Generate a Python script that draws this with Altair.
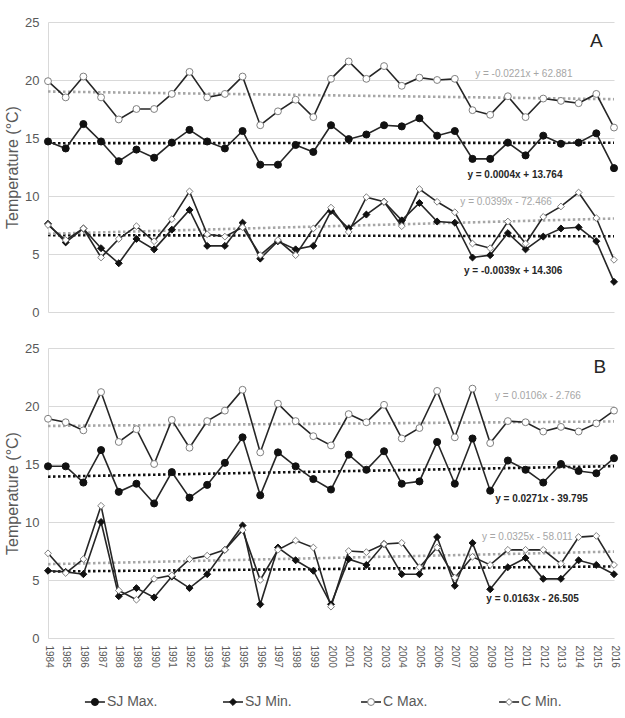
import altair as alt
import pandas as pd

YEARS = list(range(1984, 2017))
SERIES = ["SJ Max.", "SJ Min.", "C Max.", "C Min."]

# Panel A
A_SJ_MAX = [14.7, 14.1, 16.2, 14.7, 13.0, 14.0, 13.3, 14.6, 15.7, 14.7, 14.1, 15.6, 12.7, 12.7, 14.4, 13.8,
            16.1, 14.9, 15.3, 16.1, 16.0, 16.7, 15.2, 15.6, 13.2, 13.2, 14.6, 13.5, 15.2, 14.5, 14.6, 15.4, 12.4]
A_SJ_MIN = [7.6, 6.0, 7.2, 5.5, 4.2, 6.3, 5.4, 7.1, 8.8, 5.7, 5.7, 7.7, 4.6, 6.1, 5.4, 5.7,
            8.7, 7.2, 8.4, 9.5, 7.9, 9.4, 7.8, 7.7, 4.7, 4.9, 6.8, 5.4, 6.5, 7.2, 7.3, 6.1, 2.6]
A_C_MAX = [19.9, 18.5, 20.3, 18.5, 16.6, 17.5, 17.5, 18.8, 20.7, 18.5, 18.8, 20.3, 16.1, 17.3, 18.3, 16.8,
           20.1, 21.6, 20.1, 21.2, 19.5, 20.2, 20.0, 20.1, 17.4, 17.0, 18.6, 16.8, 18.4, 18.2, 18.0, 18.8, 15.9]
A_C_MIN = [7.5, 6.2, 7.2, 4.7, 6.3, 7.4, 6.1, 8.0, 10.4, 6.7, 6.5, 7.3, 4.9, 6.2, 4.9, 7.2,
           9.0, 6.9, 9.9, 9.5, 7.4, 10.6, 9.5, 8.6, 5.9, 5.5, 7.8, 5.9, 8.2, 9.1, 10.3, 8.1, 4.5]

# Panel B
B_SJ_MAX = [14.8, 14.8, 13.4, 16.2, 12.6, 13.3, 11.6, 14.3, 12.1, 13.2, 15.1, 17.3, 12.3, 16.0, 14.8, 13.7,
            12.8, 15.8, 14.5, 16.1, 13.3, 13.5, 16.9, 13.3, 17.2, 12.7, 15.3, 14.5, 13.4, 15.0, 14.4, 14.2, 15.5]
B_SJ_MIN = [5.8, 5.7, 5.5, 10.0, 3.6, 4.3, 3.5, 5.3, 4.3, 5.5, 7.6, 9.7, 2.9, 7.8, 6.7, 5.8,
            2.9, 6.8, 6.3, 8.1, 5.5, 5.5, 8.7, 4.5, 8.2, 4.2, 6.1, 6.9, 5.1, 5.1, 6.7, 6.3, 5.5]
B_C_MAX = [18.9, 18.6, 17.9, 21.2, 16.9, 18.0, 15.0, 18.8, 16.4, 18.7, 19.6, 21.4, 16.0, 20.2, 18.7, 17.4,
           16.6, 19.3, 18.6, 20.1, 17.2, 18.1, 21.3, 17.3, 21.5, 16.8, 18.7, 18.6, 17.8, 18.2, 17.8, 18.5, 19.6]
B_C_MIN = [7.3, 5.6, 6.8, 11.4, 4.1, 3.3, 5.1, 5.4, 6.8, 7.1, 7.6, 9.3, 5.0, 7.6, 8.4, 7.8,
           2.7, 7.5, 7.4, 8.1, 8.2, 6.1, 7.8, 5.2, 7.0, 6.3, 7.6, 7.6, 7.6, 6.4, 8.7, 8.8, 6.3]

# Trend equation labels (text and where they sit, in data units)
EQ_PANEL = ["A", "A", "A", "A", "B", "B", "B", "B"]
EQ_KIND = ["C", "SJ", "C", "SJ", "C", "SJ", "C", "SJ"]
EQ_TEXT = ["y = -0.0221x + 62.881", "y = 0.0004x + 13.764", "y = 0.0399x - 72.466", "y = -0.0039x + 14.306",
           "y = 0.0106x - 2.766", "y = 0.0271x - 39.795", "y = 0.0325x - 58.011", "y = 0.0163x - 26.505"]
EQ_YEAR = [2010.9, 2010.4, 2009.9, 2010.3, 2011.7, 2011.9, 2011.1, 2011.4]
EQ_VALUE = [20.5, 11.85, 9.45, 3.5, 20.85, 12.0, 8.75, 3.35]

PANEL_LABELS = ["A", "B"]
PANEL_LABEL_YEAR = [2015.0, 2015.2]
PANEL_LABEL_VALUE = [23.4, 23.4]

rows = []
for panel, arrs in (("A", [A_SJ_MAX, A_SJ_MIN, A_C_MAX, A_C_MIN]),
                    ("B", [B_SJ_MAX, B_SJ_MIN, B_C_MAX, B_C_MIN])):
    for s, arr in zip(SERIES, arrs):
        for yr, v in zip(YEARS, arr):
            rows.append({"panel": panel, "series": s, "year": yr, "value": v})
df = pd.DataFrame(rows)

eq_df = pd.DataFrame({"panel": EQ_PANEL, "kind": EQ_KIND, "text": EQ_TEXT,
                      "year": EQ_YEAR, "value": EQ_VALUE})
lab_df = pd.DataFrame({"panel": PANEL_LABELS, "text": PANEL_LABELS,
                       "year": PANEL_LABEL_YEAR, "value": PANEL_LABEL_VALUE})
leg_df = pd.DataFrame({"series": SERIES})

FONT = "Liberation Sans"
GRAY_TXT = "#595959"
GRID = "#d9d9d9"

shape_enc = alt.Shape("series:N", scale=alt.Scale(domain=SERIES, range=["circle", "diamond", "circle", "diamond"]), legend=None)
fill_enc = alt.Fill("series:N", scale=alt.Scale(domain=SERIES, range=["#111111", "#111111", "#ffffff", "#ffffff"]), legend=None)
stroke_enc = alt.Stroke("series:N", scale=alt.Scale(domain=SERIES, range=["#111111", "#111111", "#7f7f7f", "#7f7f7f"]), legend=None)
size_enc = alt.Size("series:N", scale=alt.Scale(domain=SERIES, range=[50, 46, 44, 40]), legend=None)


def panel(p, show_x):
    if show_x:
        xaxis = alt.Axis(values=YEARS, format="d", labelAngle=90, labelFontSize=10, labelColor=GRAY_TXT,
                         labelFont=FONT, domain=False, ticks=False, grid=False, title=None,
                         labelPadding=7, labelOverlap=False, labelBaseline="middle", labelAlign="left")
    else:
        xaxis = None
    x = alt.X("year:Q", scale=alt.Scale(domain=[1984, 2016], nice=False, zero=False), axis=xaxis)
    y = alt.Y("value:Q", scale=alt.Scale(domain=[0, 25], nice=False),
              axis=alt.Axis(values=[0, 5, 10, 15, 20, 25], title="Temperature (°C)", titleFontSize=16,
                            titleFontWeight="normal", titleColor=GRAY_TXT, titleFont=FONT,
                            labelFontSize=13, labelColor=GRAY_TXT, labelFont=FONT, labelPadding=9,
                            ticks=False, domain=True, domainColor=GRID, gridColor=GRID, titlePadding=4))
    d = df[df.panel == p]
    base = alt.Chart(d)
    trend = base.transform_regression("year", "value", groupby=["series"]).mark_line(
        strokeDash=[2.5, 2.5], strokeWidth=2.6).encode(
        x=x, y=y, detail="series:N",
        color=alt.Color("series:N", scale=alt.Scale(domain=SERIES, range=["#111111", "#111111", "#a6a6a6", "#a6a6a6"]), legend=None))
    lines = base.mark_line(color="#262626", strokeWidth=1.6).encode(x=x, y=y, detail="series:N")
    pts = base.mark_point(filled=True, opacity=1, strokeWidth=1).encode(
        x=x, y=y, shape=shape_enc, fill=fill_enc, stroke=stroke_enc, size=size_enc)
    e = eq_df[eq_df.panel == p]
    eq_gray = alt.Chart(e[e.kind == "C"]).mark_text(font=FONT, fontSize=10, color="#a6a6a6").encode(
        x=x, y=y, text="text:N")
    eq_black = alt.Chart(e[e.kind == "SJ"]).mark_text(font=FONT, fontSize=10, fontWeight="bold", color="#262626").encode(
        x=x, y=y, text="text:N")
    lab = alt.Chart(lab_df[lab_df.panel == p]).mark_text(font=FONT, fontSize=19, color="#262626").encode(
        x=x, y=y, text="text:N")
    return alt.layer(trend, lines, pts, eq_gray, eq_black, lab).properties(width=566, height=290)


# custom legend row: slot number 1..4 from the order of SERIES
leg_base = alt.Chart(leg_df).transform_window(slot="row_number()")
lx = alt.X("slot:Q", scale=alt.Scale(domain=[0.66, 4.76], nice=False, zero=False), axis=None)
leg_line = leg_base.mark_point(shape="M-1,0L1,0", size=400, filled=False, stroke="#262626",
                               strokeWidth=1.6, opacity=1).encode(x=lx, y=alt.value(8))
leg_pts = leg_base.mark_point(filled=True, opacity=1, strokeWidth=1).encode(
    x=lx, y=alt.value(8), shape=shape_enc, fill=fill_enc, stroke=stroke_enc, size=size_enc)
leg_txt = leg_base.mark_text(align="left", dx=12, font=FONT, fontSize=14, color=GRAY_TXT).encode(
    x=lx, y=alt.value(8), text="series:N")
legend = alt.layer(leg_line, leg_pts, leg_txt).properties(width=566, height=16)

top = alt.vconcat(panel("A", False), panel("B", True), spacing=23)
chart = alt.vconcat(top, legend, spacing=26).properties(
    padding={"left": 4, "top": 16, "right": 5, "bottom": 5}
).configure_view(stroke=None)

chart.save("out.html", embed_options={"renderer": "svg", "actions": False})
